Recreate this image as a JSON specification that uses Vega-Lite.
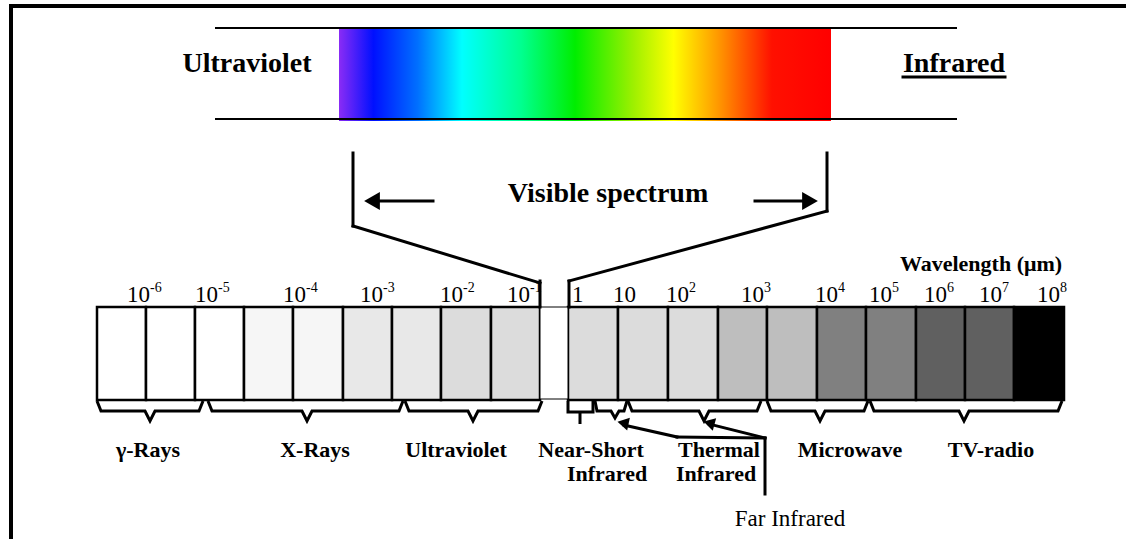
{
"$schema":"https://vega.github.io/schema/vega-lite/v6.json",
"width":1126,"height":539,"padding":0,"autosize":{"type":"none"},
"background":"white",
"config":{"view":{"stroke":null}},
"datasets":{
 "frame":[{"x":9,"x2":1126,"y":6,"y2":6},{"x":11,"x2":11,"y":5,"y2":539}],
 "strip":[{"x":215,"x2":957,"y":28,"y2":28},{"x":215,"x2":957,"y":119,"y2":119}],
 "rainbow":[{"x":339,"x2":831,"y":29,"y2":121}],
 "cells":[
  {"x":97,"x2":146,"tone":"white","y":307,"y2":400},
  {"x":146,"x2":195,"tone":"white","y":307,"y2":400},
  {"x":195,"x2":244,"tone":"white","y":307,"y2":400},
  {"x":244,"x2":293,"tone":"c1","y":307,"y2":400},
  {"x":293,"x2":343,"tone":"c1","y":307,"y2":400},
  {"x":343,"x2":392,"tone":"c2","y":307,"y2":400},
  {"x":392,"x2":441,"tone":"c2","y":307,"y2":400},
  {"x":441,"x2":491,"tone":"c3","y":307,"y2":400},
  {"x":491,"x2":540,"tone":"c3","y":307,"y2":400},
  {"x":568,"x2":618,"tone":"c3","y":307,"y2":400},
  {"x":618,"x2":668,"tone":"c3","y":307,"y2":400},
  {"x":668,"x2":718,"tone":"c3","y":307,"y2":400},
  {"x":718,"x2":767,"tone":"c4","y":307,"y2":400},
  {"x":767,"x2":817,"tone":"c4","y":307,"y2":400},
  {"x":817,"x2":866,"tone":"c5","y":307,"y2":400},
  {"x":866,"x2":916,"tone":"c5","y":307,"y2":400},
  {"x":916,"x2":965,"tone":"c6","y":307,"y2":400},
  {"x":965,"x2":1014,"tone":"c6","y":307,"y2":400},
  {"x":1014,"x2":1064,"tone":"black","y":307,"y2":400}
 ],
 "gap":[{"x":540,"x2":568,"y":307,"y2":399}],
 "segs":[
  {"x":353,"y":153,"x2":353,"y2":226},
  {"x":353,"y":226,"x2":540,"y2":283},
  {"x":540,"y":281,"x2":540,"y2":307},
  {"x":827,"y":153,"x2":827,"y2":211},
  {"x":827,"y":211,"x2":569,"y2":281},
  {"x":569,"y":281,"x2":569,"y2":307},
  {"x":378,"y":201,"x2":433,"y2":201},
  {"x":755,"y":201,"x2":805,"y2":201},
  {"x":765,"y":438,"x2":765,"y2":494},
  {"x":765,"y":438,"x2":677,"y2":437},
  {"x":677,"y":437,"x2":624,"y2":425},
  {"x":765,"y":438,"x2":709,"y2":424},
  {"x":903,"y":77,"x2":1005,"y2":77}
 ],
 "braces":[
  {"id":"b1","o":1,"x":97,"y":401},{"id":"b1","o":2,"x":101,"y":411},{"id":"b1","o":3,"x":145,"y":411},{"id":"b1","o":4,"x":150,"y":421},{"id":"b1","o":5,"x":155,"y":411},{"id":"b1","o":6,"x":199,"y":411},{"id":"b1","o":7,"x":203,"y":401},
  {"id":"b2","o":1,"x":208,"y":401},{"id":"b2","o":2,"x":212,"y":411},{"id":"b2","o":3,"x":302,"y":411},{"id":"b2","o":4,"x":307,"y":421},{"id":"b2","o":5,"x":312,"y":411},{"id":"b2","o":6,"x":399,"y":411},{"id":"b2","o":7,"x":403,"y":401},
  {"id":"b3","o":1,"x":405,"y":401},{"id":"b3","o":2,"x":409,"y":411},{"id":"b3","o":3,"x":468,"y":411},{"id":"b3","o":4,"x":473,"y":421},{"id":"b3","o":5,"x":478,"y":411},{"id":"b3","o":6,"x":538,"y":411},{"id":"b3","o":7,"x":542,"y":401},
  {"id":"b4","o":1,"x":568,"y":401},{"id":"b4","o":2,"x":568,"y":412},{"id":"b4","o":3,"x":580,"y":412},{"id":"b4","o":4,"x":580,"y":424},{"id":"b4","o":5,"x":580,"y":412},{"id":"b4","o":6,"x":593,"y":412},{"id":"b4","o":7,"x":593,"y":401},
  {"id":"b5","o":1,"x":595,"y":401},{"id":"b5","o":2,"x":597,"y":411},{"id":"b5","o":3,"x":611,"y":411},{"id":"b5","o":4,"x":615,"y":418},{"id":"b5","o":5,"x":619,"y":411},{"id":"b5","o":6,"x":624,"y":411},{"id":"b5","o":7,"x":627,"y":401},
  {"id":"b6","o":1,"x":628,"y":401},{"id":"b6","o":2,"x":632,"y":411},{"id":"b6","o":3,"x":699,"y":411},{"id":"b6","o":4,"x":704,"y":421},{"id":"b6","o":5,"x":709,"y":411},{"id":"b6","o":6,"x":757,"y":411},{"id":"b6","o":7,"x":761,"y":401},
  {"id":"b7","o":1,"x":767,"y":401},{"id":"b7","o":2,"x":771,"y":411},{"id":"b7","o":3,"x":815,"y":411},{"id":"b7","o":4,"x":820,"y":421},{"id":"b7","o":5,"x":825,"y":411},{"id":"b7","o":6,"x":864,"y":411},{"id":"b7","o":7,"x":868,"y":401},
  {"id":"b8","o":1,"x":870,"y":401},{"id":"b8","o":2,"x":874,"y":411},{"id":"b8","o":3,"x":959,"y":411},{"id":"b8","o":4,"x":964,"y":421},{"id":"b8","o":5,"x":969,"y":411},{"id":"b8","o":6,"x":1058,"y":411},{"id":"b8","o":7,"x":1062,"y":401}
 ],
 "headLeft":[{"x":372,"y":201}],
 "headRight":[{"x":810,"y":201}],
 "headFarA":[{"x":623,"y":423}],
 "headFarB":[{"x":709,"y":423}],
 "bigLabels":[
  {"x":247,"y":72,"label":"Ultraviolet"},
  {"x":954,"y":72,"label":"Infrared"},
  {"x":608,"y":202,"label":"Visible spectrum"}
 ],
 "wave":[{"x":981,"y":271,"label":"Wavelength (μm)"}],
 "bands":[
  {"x":148,"y":457,"label":"γ-Rays"},
  {"x":315,"y":457,"label":"X-Rays"},
  {"x":456,"y":457,"label":"Ultraviolet"},
  {"x":591,"y":457,"label":"Near-Short"},
  {"x":607,"y":481,"label":"Infrared"},
  {"x":719,"y":457,"label":"Thermal"},
  {"x":716,"y":481,"label":"Infrared"},
  {"x":850,"y":457,"label":"Microwave"},
  {"x":991,"y":457,"label":"TV-radio"}
 ],
 "far":[{"x":790,"y":526,"label":"Far Infrared"}],
 "ticks":[
  {"x":127,"y":302,"base":"10","exp":"-6"},
  {"x":195,"y":302,"base":"10","exp":"-5"},
  {"x":283,"y":302,"base":"10","exp":"-4"},
  {"x":360,"y":302,"base":"10","exp":"-3"},
  {"x":440,"y":302,"base":"10","exp":"-2"},
  {"x":507,"y":302,"base":"10","exp":"-1"},
  {"x":572,"y":302,"base":"1","exp":""},
  {"x":613,"y":302,"base":"10","exp":""},
  {"x":666,"y":302,"base":"10","exp":"2"},
  {"x":741,"y":302,"base":"10","exp":"3"},
  {"x":815,"y":302,"base":"10","exp":"4"},
  {"x":869,"y":302,"base":"10","exp":"5"},
  {"x":924,"y":302,"base":"10","exp":"6"},
  {"x":979,"y":302,"base":"10","exp":"7"},
  {"x":1037,"y":302,"base":"10","exp":"8"}
 ]
},
"encoding":{
 "x":{"field":"x","type":"quantitative","scale":{"domain":[0,1126],"nice":false,"zero":false},"axis":null},
 "y":{"field":"y","type":"quantitative","scale":{"domain":[0,539],"nice":false,"zero":false,"reverse":true},"axis":null}
},
"layer":[
 {"data":{"name":"rainbow"},"mark":{"type":"rect","fill":{"gradient":"linear","x1":0,"y1":0,"x2":1,"y2":0,"stops":[
   {"offset":0,"color":"#8a2cf5"},
   {"offset":0.07,"color":"#0010ff"},
   {"offset":0.16,"color":"#0070ff"},
   {"offset":0.25,"color":"#00ffff"},
   {"offset":0.37,"color":"#00ff90"},
   {"offset":0.48,"color":"#00ee00"},
   {"offset":0.6,"color":"#a0f000"},
   {"offset":0.68,"color":"#ffff00"},
   {"offset":0.77,"color":"#ff9900"},
   {"offset":0.88,"color":"#ff1000"},
   {"offset":1,"color":"#ff0000"}]}},
  "encoding":{"x2":{"field":"x2"},"y2":{"field":"y2"}}},
 {"data":{"name":"strip"},"mark":{"type":"rule","color":"black","strokeWidth":2},
  "encoding":{"x2":{"field":"x2"},"y2":{"field":"y2"}}},
 {"data":{"name":"frame"},"mark":{"type":"rule","color":"black","strokeWidth":4},
  "encoding":{"x2":{"field":"x2"},"y2":{"field":"y2"}}},
 {"data":{"name":"cells"},"mark":{"type":"rect","stroke":"black","strokeWidth":2.5},
  "encoding":{"x2":{"field":"x2"},"y2":{"field":"y2"},
   "fill":{"field":"tone","type":"nominal","legend":null,"scale":{"domain":["white","c1","c2","c3","c4","c5","c6","black"],"range":["#ffffff","#f6f6f6","#e8e8e8","#dcdcdc","#bebebe","#808080","#606060","#000000"]}}}},
 {"data":{"name":"gap"},"mark":{"type":"rect","fill":"white","stroke":"black","strokeWidth":1},
  "encoding":{"x2":{"field":"x2"},"y2":{"field":"y2"}}},
 {"data":{"name":"segs"},"mark":{"type":"rule","color":"black","strokeWidth":3,"strokeCap":"square"},
  "encoding":{"x2":{"field":"x2"},"y2":{"field":"y2"}}},
 {"data":{"name":"braces"},"mark":{"type":"line","color":"black","strokeWidth":3,"strokeJoin":"miter"},
  "encoding":{"detail":{"field":"id"},"order":{"field":"o","type":"quantitative"}}},
 {"data":{"name":"headLeft"},"mark":{"type":"point","shape":"triangle-left","filled":true,"color":"black","size":330,"opacity":1}},
 {"data":{"name":"headRight"},"mark":{"type":"point","shape":"triangle-right","filled":true,"color":"black","size":330,"opacity":1}},
 {"data":{"name":"headFarA"},"mark":{"type":"point","shape":"triangle-left","filled":true,"color":"black","size":170,"angle":12,"opacity":1}},
 {"data":{"name":"headFarB"},"mark":{"type":"point","shape":"triangle-left","filled":true,"color":"black","size":170,"angle":15,"opacity":1}},
 {"data":{"name":"bigLabels"},"mark":{"type":"text","font":"Liberation Serif","fontWeight":"bold","fontSize":28,"align":"center","baseline":"alphabetic","color":"black"},
  "encoding":{"text":{"field":"label"}}},
 {"data":{"name":"wave"},"mark":{"type":"text","font":"Liberation Serif","fontWeight":"bold","fontSize":22,"align":"center","baseline":"alphabetic","color":"black"},
  "encoding":{"text":{"field":"label"}}},
 {"data":{"name":"bands"},"mark":{"type":"text","font":"Liberation Serif","fontWeight":"bold","fontSize":22,"align":"center","baseline":"alphabetic","color":"black"},
  "encoding":{"text":{"field":"label"}}},
 {"data":{"name":"far"},"mark":{"type":"text","font":"Liberation Serif","fontSize":23,"align":"center","baseline":"alphabetic","color":"black"},
  "encoding":{"text":{"field":"label"}}},
 {"data":{"name":"ticks"},"mark":{"type":"text","font":"Liberation Serif","fontSize":23,"align":"left","baseline":"alphabetic","color":"black"},
  "encoding":{"text":{"field":"base"}}},
 {"data":{"name":"ticks"},"mark":{"type":"text","font":"Liberation Serif","fontSize":14,"align":"left","baseline":"alphabetic","color":"black","dx":23,"dy":-10},
  "encoding":{"text":{"field":"exp"}}}
]
}
